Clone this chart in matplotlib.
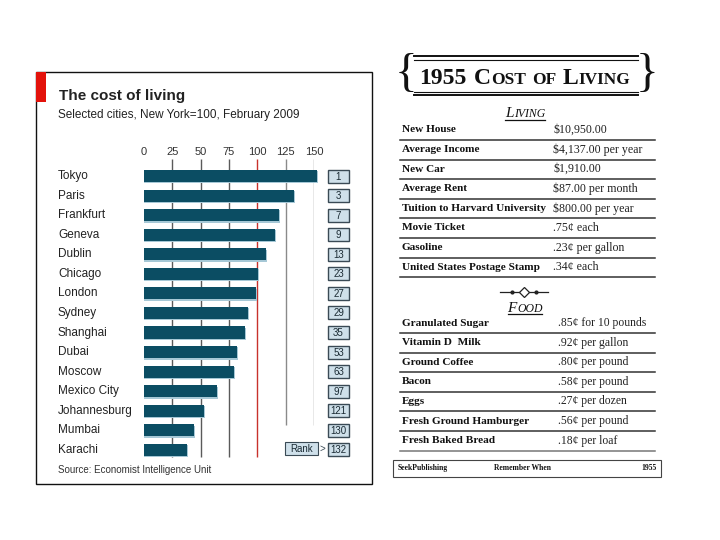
import matplotlib
matplotlib.use('Agg')
import matplotlib.pyplot as plt
from matplotlib.patches import Rectangle

# Left picture: Economist chart
cities = ['Tokyo', 'Paris', 'Frankfurt', 'Geneva', 'Dublin', 'Chicago', 'London', 'Sydney',
          'Shanghai', 'Dubai', 'Moscow', 'Mexico City', 'Johannesburg', 'Mumbai', 'Karachi']
index_values = [153, 132, 119, 115.5, 108, 101, 99, 92, 89.5, 82, 79, 64, 53, 44, 37.5]
ranks = [1, 3, 7, 9, 13, 23, 27, 29, 35, 53, 63, 97, 121, 130, 132]
x_ticks = [0, 25, 50, 75, 100, 125, 150]

# Right picture: 1955 table
living_items = ['New House', 'Average Income', 'New Car', 'Average Rent',
                'Tuition to Harvard University', 'Movie Ticket', 'Gasoline',
                'United States Postage Stamp']
living_prices = ['$10,950.00', '$4,137.00 per year', '$1,910.00', '$87.00 per month',
                 '$800.00 per year', '.75\u00a2 each', '.23\u00a2 per gallon', '.34\u00a2 each']
food_items = ['Granulated Sugar', 'Vitamin D  Milk', 'Ground Coffee', 'Bacon', 'Eggs',
              'Fresh Ground Hamburger', 'Fresh Baked Bread']
food_prices = ['.85\u00a2 for 10 pounds', '.92\u00a2 per gallon', '.80\u00a2 per pound',
               '.58\u00a2 per pound', '.27\u00a2 per dozen', '.56\u00a2 per pound',
               '.18\u00a2 per loaf']

SANS = 'Liberation Sans'
SERIF = 'Liberation Serif'
BAR = '#0b4d63'
BOX = '#cfe0ea'

ROW0, STEP = 176, 19.57   # pixel rows of the bar chart

fig = plt.figure(figsize=(7.2, 5.4), dpi=100)
bg = fig.add_axes([0, 0, 1, 1])
bg.set_xlim(0, 720)
bg.set_ylim(540, 0)
bg.axis('off')

# panel frame + red tag
bg.add_patch(Rectangle((36, 72), 335.5, 411.5, fill=False, ec='#111', lw=1))
bg.add_patch(Rectangle((36, 72), 10, 30, color='#e3120b', lw=0))

bg.text(59, 96, 'The cost of living', fontsize=11, fontweight='bold', family=SANS,
        color='#222', va='center')
bg.text(58, 115, 'Selected cities, New York=100, February 2009', fontsize=8.5,
        family=SANS, color='#222', va='center')
bg.text(58, 470, 'Source: Economist Intelligence Unit', fontsize=7, family=SANS,
        color='#333', va='center')

# bar axes
top_px, bot_px = 159, 460
ax = fig.add_axes([144 / 720, 1 - bot_px / 540, 170 / 720, (bot_px - top_px) / 540])
ax.set_xlim(0, 150)
ax.set_ylim((bot_px - ROW0) / STEP, (top_px - ROW0) / STEP)
ax.axis('off')

rows = list(range(len(cities)))
y_top = (top_px - ROW0) / STEP
for t in x_ticks[1:]:
    if t == 100:
        col, end = '#c8322c', (457 - ROW0) / STEP
    elif t > 100:
        col, end = '#8a8a8a', (425 - ROW0) / STEP
    else:
        col, end = '#5a5a5a', (457 - ROW0) / STEP
    ax.vlines(t, y_top, end, colors=col, lw=1, zorder=1)
for t in x_ticks:
    ax.text(t, (152 - ROW0) / STEP, str(t), ha='center', va='center', fontsize=8,
            family=SANS, color='#333', clip_on=False)

shadow = ax.barh([r + 0.07 for r in rows], [v + 0.9 for v in index_values], height=0.62,
                 color='#a6c8d6', zorder=2)
bars = ax.barh(rows, index_values, height=0.62, color=BAR, zorder=3)
for p in list(shadow) + list(bars):
    p.set_clip_on(False)

for i, (c, rk) in enumerate(zip(cities, ranks)):
    y = ROW0 + i * STEP
    bg.text(58, y, c, fontsize=8.5, family=SANS, color='#222', va='center')
    bg.add_patch(Rectangle((328, y - 6.5), 20.5, 13, fc=BOX, ec='#3a4a55', lw=1))
    bg.text(338.5, y + 0.5, str(rk), fontsize=7, family=SANS, color='#1a2a33',
            ha='center', va='center')

ry = ROW0 + 14 * STEP - 1
bg.add_patch(Rectangle((285, ry - 6.5), 33, 13, fc=BOX, ec='#3a4a55', lw=0.8))
bg.text(301.5, ry, 'Rank', fontsize=7, family=SANS, color='#1a2a33', ha='center', va='center')
bg.text(322, ry, '>', fontsize=7, family=SANS, color='#3a4a55', ha='center', va='center')

# ---- right picture ----
renderer = fig.canvas.get_renderer()


def runs_centered(xc, y, runs, **kw):
    """draw text runs side by side, centred on xc; a number in runs is a gap in px"""
    items = []
    for r in runs:
        if isinstance(r, (int, float)):
            items.append((None, r))
        else:
            t = bg.text(0, y, r[0], fontsize=r[1], va='baseline', **kw)
            items.append((t, t.get_window_extent(renderer).width))
    total = sum(w for _, w in items)
    x = xc - total / 2
    for t, w in items:
        if t is not None:
            t.set_x(x)
        x += w
    return xc - total / 2, x


# banner
for yy in (56, 59.5):
    bg.plot([414, 638], [yy, yy], color='#111', lw=1.4 if yy < 58 else 0.8)
for yy in (91.5, 95):
    bg.plot([414, 638], [yy, yy], color='#111', lw=0.8 if yy < 93 else 1.4)
bg.text(406, 75, '{', fontsize=34, family=SERIF, ha='center', va='center', color='#111')
bg.text(647, 75, '}', fontsize=34, family=SERIF, ha='center', va='center', color='#111')
runs_centered(525, 84, [('1955', 17), 7, ('C', 17), ('OST', 12.5), 6, ('OF', 12.5), 7,
                        ('L', 17), ('IVING', 12.5)],
              family=SERIF, fontweight='bold', color='#111')

# LIVING heading
x0, x1 = runs_centered(525, 117, [('L', 11), ('IVING', 8.5)], family=SERIF,
                       style='italic', color='#111')
bg.plot([x0, x1], [119.5, 119.5], color='#111', lw=0.9)

T0, TSTEP = 130, 19.6
for i, (item, price) in enumerate(zip(living_items, living_prices)):
    y = T0 + i * TSTEP
    bg.text(402, y, item, fontsize=8.1, family=SERIF, fontweight='bold', color='#111', va='center')
    bg.text(553, y, price, fontsize=8.6, family=SERIF, color='#222', va='center')
    bg.plot([400, 655], [y + 10, y + 10], color='#333', lw=1.1)

# ornament
bg.plot([500, 548], [292, 292], color='#222', lw=0.9)
bg.plot([524], [292], marker='D', ms=5, color='#222', mfc='white', mew=0.9)
bg.plot([512, 536], [292, 292], marker='o', ms=2, ls='none', color='#222')

x0, x1 = runs_centered(525, 312, [('F', 11), ('OOD', 8.5)], family=SERIF,
                       style='italic', color='#111')
bg.plot([x0, x1], [314, 314], color='#111', lw=0.9)

F0 = 323
for i, (item, price) in enumerate(zip(food_items, food_prices)):
    y = F0 + i * TSTEP
    bg.text(402, y, item, fontsize=8.1, family=SERIF, fontweight='bold', color='#111', va='center')
    bg.text(558, y, price, fontsize=8.4, family=SERIF, color='#222', va='center')
    bg.plot([400, 655], [y + 10, y + 10], color='#333' if i < 6 else '#777', lw=1.1)

# footer
bg.add_patch(Rectangle((393, 460), 268, 16.5, fill=False, ec='#444', lw=0.8))
bg.text(398, 468, 'SeekPublishing', fontsize=5.5, family=SERIF, fontweight='bold',
        color='#111', va='center')
bg.text(523, 468, 'Remember When', fontsize=5.5, family=SERIF, fontweight='bold',
        color='#111', va='center', ha='center')
bg.text(657, 468, '1955', fontsize=5.5, family=SERIF, fontweight='bold',
        color='#111', va='center', ha='right')

fig.savefig('out.png', dpi=100)
